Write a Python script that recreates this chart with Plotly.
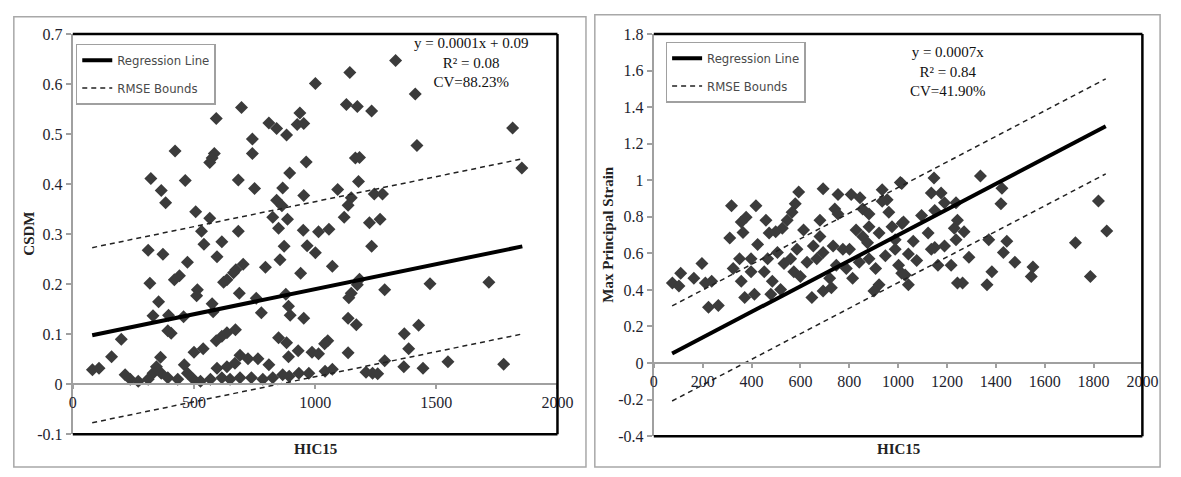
import plotly.graph_objects as go

W, H = 1181, 477

# ---------------- data ----------------
csdm_hic = [1001, 696, 592, 809, 841, 882, 937, 926, 953, 741, 741, 422, 584, 575, 565, 963, 322, 464, 683, 750,
            895, 866, 365, 383, 953, 841, 863, 507, 565, 825, 886, 531, 683, 849, 951, 541, 615, 311, 372, 872,
            967, 595, 473, 855, 1001, 795, 703, 673, 663, 440, 419, 318, 636, 622, 940, 514, 511, 687, 879, 354,
            575, 757, 331, 395, 457, 579, 778, 890, 897, 953, 392, 406, 200, 671, 636, 615, 592, 849, 882, 538,
            500, 160, 362, 690, 723, 764, 930, 890, 809, 987, 81, 108, 345, 460, 595, 636, 669, 216, 331, 365,
            392, 237, 270, 473, 498, 527, 568, 615, 649, 690, 737, 784, 825, 866, 893, 933, 311, 433,
            1332, 1143, 1413, 1129, 1174, 1233, 1815, 1420, 1166, 1183, 1853, 1179, 1093, 1149, 1136, 1244, 1278,
            1120, 1224, 1268, 1014, 1057, 1233, 1071, 1183, 1174, 1149, 1139, 1287, 1474, 1717, 1136, 1170, 1427,
            1368, 1052, 1039, 1014, 1136, 1386, 1287, 1366, 1445, 1548, 1778, 1041, 1071, 1210, 1237, 1258, 974]
csdm_val = [0.601, 0.553, 0.531, 0.522, 0.511, 0.498, 0.542, 0.519, 0.521, 0.490, 0.461, 0.466, 0.461, 0.452, 0.443,
            0.444, 0.411, 0.407, 0.408, 0.391, 0.422, 0.392, 0.387, 0.363, 0.377, 0.368, 0.357, 0.345, 0.332, 0.334,
            0.330, 0.306, 0.306, 0.312, 0.308, 0.280, 0.285, 0.268, 0.260, 0.276, 0.277, 0.255, 0.244, 0.249, 0.263,
            0.234, 0.240, 0.229, 0.223, 0.217, 0.209, 0.202, 0.209, 0.204, 0.222, 0.189, 0.177, 0.182, 0.180, 0.165,
            0.161, 0.172, 0.137, 0.138, 0.135, 0.145, 0.143, 0.156, 0.138, 0.132, 0.107, 0.102, 0.090, 0.109, 0.103,
            0.096, 0.087, 0.093, 0.083, 0.071, 0.064, 0.055, 0.054, 0.058, 0.051, 0.051, 0.067, 0.055, 0.039, 0.064,
            0.029, 0.032, 0.035, 0.039, 0.032, 0.035, 0.042, 0.019, 0.022, 0.022, 0.013, 0.010, 0.006, 0.022, 0.010,
            0.006, 0.010, 0.013, 0.010, 0.013, 0.013, 0.010, 0.013, 0.019, 0.016, 0.022, 0.010, 0.010,
            0.647, 0.623, 0.580, 0.559, 0.555, 0.546, 0.512, 0.477, 0.452, 0.453, 0.432, 0.405, 0.389, 0.373, 0.358,
            0.380, 0.380, 0.334, 0.323, 0.330, 0.305, 0.310, 0.276, 0.236, 0.210, 0.199, 0.182, 0.173, 0.189, 0.201,
            0.204, 0.132, 0.119, 0.118, 0.101, 0.087, 0.081, 0.061, 0.063, 0.071, 0.047, 0.035, 0.032, 0.045, 0.040,
            0.026, 0.030, 0.024, 0.022, 0.021, 0.022]

mps_hic = [318, 418, 593, 693, 754, 808, 844, 935, 955, 1009, 378, 459, 579, 566, 546, 526, 499, 472, 358, 365,
           311, 613, 680, 741, 754, 855, 881, 935, 962, 828, 855, 875, 922, 975, 1016, 680, 653, 693, 667, 627,
           586, 560, 533, 573, 600, 506, 466, 425, 398, 351, 325, 358, 398, 452, 485, 519, 479, 372, 412, 197,
           110, 164, 76, 103, 211, 237, 224, 264, 734, 774, 801, 747, 788, 814, 720, 693, 647, 727, 841, 881,
           908, 948, 988, 1002, 1029, 922, 901, 881, 988,
           1337, 1147, 1015, 1136, 1176, 1190, 1237, 1425, 1421, 1150, 1096, 1022, 1243, 1230, 1270, 1123, 1062,
           1237, 1150, 1190, 1042, 1076, 1136, 1290, 1371, 1445, 1431, 1478, 1552, 1545, 1384, 1364, 1243, 1264,
           1217, 1163, 1042, 1015, 1726, 1820, 1854, 1787]
mps_val = [0.860, 0.860, 0.936, 0.953, 0.922, 0.922, 0.904, 0.948, 0.894, 0.988, 0.798, 0.781, 0.872, 0.825, 0.781,
           0.737, 0.719, 0.711, 0.772, 0.714, 0.684, 0.728, 0.781, 0.843, 0.815, 0.843, 0.816, 0.885, 0.825, 0.728,
           0.693, 0.658, 0.711, 0.746, 0.764, 0.693, 0.640, 0.605, 0.570, 0.552, 0.623, 0.570, 0.544, 0.500, 0.473,
           0.605, 0.570, 0.649, 0.570, 0.570, 0.517, 0.447, 0.500, 0.500, 0.447, 0.403, 0.376, 0.359, 0.376, 0.544,
           0.491, 0.464, 0.438, 0.421, 0.438, 0.447, 0.306, 0.315, 0.640, 0.623, 0.623, 0.535, 0.517, 0.464, 0.464,
           0.394, 0.359, 0.412, 0.552, 0.570, 0.517, 0.587, 0.623, 0.535, 0.482, 0.429, 0.394, 0.746, 0.675,
           1.024, 1.013, 0.983, 0.930, 0.930, 0.877, 0.877, 0.957, 0.872, 0.834, 0.807, 0.772, 0.781, 0.737, 0.719,
           0.711, 0.666, 0.675, 0.632, 0.640, 0.596, 0.561, 0.623, 0.579, 0.675, 0.666, 0.605, 0.552, 0.526, 0.473,
           0.500, 0.429, 0.438, 0.438, 0.535, 0.535, 0.429, 0.491, 0.658, 0.886, 0.722, 0.473]

# regression fits (slope, intercept, RMSE offset) and fitted range
csdm_fit = dict(slope=0.0001, intercept=0.09, rmse=0.175, xmin=80, xmax=1855)
mps_fit = dict(slope=0.0007, intercept=0.0, rmse=0.26, xmin=75, xmax=1850)

csdm_text = ["y = 0.0001x + 0.09", "R² = 0.08", "CV=88.23%"]
mps_text = ["y = 0.0007x", "R² = 0.84", "CV=41.90%"]

x_ticks_left = [0, 500, 1000, 1500, 2000]
x_ticks_right = [0, 200, 400, 600, 800, 1000, 1200, 1400, 1600, 1800, 2000]
y_ticks_left = [-0.1, 0, 0.1, 0.2, 0.3, 0.4, 0.5, 0.6, 0.7]
y_ticks_right = [-0.4, -0.2, 0, 0.2, 0.4, 0.6, 0.8, 1, 1.2, 1.4, 1.6, 1.8]

# ---------------- layout geometry (pixels) ----------------
SERIF = "Liberation Serif, Times New Roman, serif"
SANS_N = "Liberation Sans Narrow, DejaVu Sans Condensed, Arial Narrow, sans-serif"
TICK_COLOR = "#1e1e2e"
GRAY = "#a0a0a0"


def px_x(p):
    return p / W


def px_y(p):
    return 1 - p / H


panels = [
    dict(xa="x", ya="y", xl=70, xr=563, yt=27, yb=442, yrange=[-0.1, 0.7],
         xt=x_ticks_left, yt_vals=y_ticks_left, hic=csdm_hic, val=csdm_val, fit=csdm_fit,
         legend="legend", leg_x=73, leg_y=41, text=csdm_text, text_x=475, text_y=33,
         ytitle="CSDM", ytitle_x=26),
    dict(xa="x2", ya="y2", xl=661, xr=1158, yt=27, yb=444, yrange=[-0.4, 1.8],
         xt=x_ticks_right, yt_vals=y_ticks_right, hic=mps_hic, val=mps_val, fit=mps_fit,
         legend="legend2", leg_x=673, leg_y=39, text=mps_text, text_x=960, text_y=42,
         ytitle="Max Principal Strain", ytitle_x=615),
]

fig = go.Figure()
layout = dict(width=W, height=H, margin=dict(l=0, r=0, t=0, b=0), autosize=False,
              paper_bgcolor="white", plot_bgcolor="white", showlegend=True)
shapes = []
annotations = []

for i, p in enumerate(panels):
    f = p["fit"]
    fig.add_trace(go.Scatter(x=p["hic"], y=p["val"], mode="markers", xaxis=p["xa"], yaxis=p["ya"],
                             marker=dict(symbol="diamond", size=10, color="#3b3b3b"),
                             showlegend=False))
    xs = [f["xmin"], f["xmax"]]
    reg = [f["slope"] * x + f["intercept"] for x in xs]
    up = [v + f["rmse"] for v in reg]
    lo = [v - f["rmse"] for v in reg]
    fig.add_trace(go.Scatter(x=xs, y=reg, mode="lines", xaxis=p["xa"], yaxis=p["ya"],
                             line=dict(color="black", width=4), name="Regression Line",
                             legend=p["legend"], legendgroup=f"reg{i}"))
    fig.add_trace(go.Scatter(x=xs + [None] + xs, y=up + [None] + lo, mode="lines",
                             xaxis=p["xa"], yaxis=p["ya"],
                             line=dict(color="#222", width=1.5, dash="5px,4px"), name="RMSE Bounds",
                             legend=p["legend"], legendgroup=f"rmse{i}"))

    ydom = [px_y(p["yb"]), px_y(p["yt"])]
    xdom = [px_x(p["xl"]), px_x(p["xr"])]
    y0, y1 = p["yrange"]
    zero_pos = ydom[0] + (0 - y0) / (y1 - y0) * (ydom[1] - ydom[0])
    xname = "xaxis" if i == 0 else "xaxis2"
    yname = "yaxis" if i == 0 else "yaxis2"
    layout[xname] = dict(domain=xdom, range=[0, 2000], anchor="free", position=zero_pos,
                         showline=True, linecolor=GRAY, linewidth=2, ticks="outside", ticklen=4,
                         tickcolor=GRAY, tickwidth=1.5, tickvals=p["xt"], ticktext=[str(v) for v in p["xt"]],
                         showgrid=False, zeroline=False,
                         tickfont=dict(family=SERIF, size=16, color=TICK_COLOR))
    layout[yname] = dict(domain=ydom, range=p["yrange"], anchor=p["xa"],
                         showline=True, linecolor=GRAY, linewidth=2, ticks="outside", ticklen=5,
                         tickcolor=GRAY, tickwidth=1.5, tickvals=p["yt_vals"],
                         ticktext=[f"{v:g}" for v in p["yt_vals"]],
                         showgrid=False, zeroline=False,
                         tickfont=dict(family=SERIF, size=16, color=TICK_COLOR))
    xr_ = f"{p['xa']} domain"
    yr_ = f"{p['ya']} domain"
    for (a, b, c, d) in [(0, 1, 1, 1), (1, 0, 1, 1), (0, 0, 1, 0)]:
        shapes.append(dict(type="line", xref=xr_, yref=yr_, x0=a, y0=b, x1=c, y1=d,
                           line=dict(color="black", width=2.5)))
    layout[p["legend"]] = dict(x=px_x(p["leg_x"]), y=px_y(p["leg_y"] - 4), xref="paper", yref="paper",
                               xanchor="left", yanchor="top", bgcolor="white",
                               bordercolor=GRAY, borderwidth=1.5, tracegroupgap=8, itemwidth=30,
                               font=dict(family=SANS_N, size=13, color="#4a4a4a"))
    annotations.append(dict(x=px_x(p["text_x"]), y=px_y(p["text_y"] - 7), xref="paper", yref="paper",
                            xanchor="center", yanchor="top", showarrow=False, align="center",
                            text="<br>".join(p["text"]),
                            font=dict(family=SERIF, size=15, color="#111")))
    annotations.append(dict(x=px_x((p["xl"] + p["xr"]) / 2), y=px_y(457), xref="paper", yref="paper",
                            xanchor="center", yanchor="middle", showarrow=False, text="<b>HIC15</b>",
                            font=dict(family=SERIF, size=15, color="#222")))
    annotations.append(dict(x=px_x(p["ytitle_x"]), y=px_y((p["yt"] + p["yb"]) / 2), xref="paper",
                            yref="paper", xanchor="center", yanchor="middle", showarrow=False,
                            textangle=-90, text=f"<b>{p['ytitle']}</b>",
                            font=dict(family=SERIF, size=15, color="#222")))

for (x0, y0, x1, y1) in [(10, 9, 592, 476), (601, 7, 1176, 476)]:
    shapes.append(dict(type="rect", xref="paper", yref="paper", x0=px_x(x0), x1=px_x(x1),
                       y0=px_y(y1), y1=px_y(y0), line=dict(color="#a8a8a8", width=1.5)))

layout["shapes"] = shapes
layout["annotations"] = annotations
fig.update_layout(**layout)
fig.write_html("out.html")
